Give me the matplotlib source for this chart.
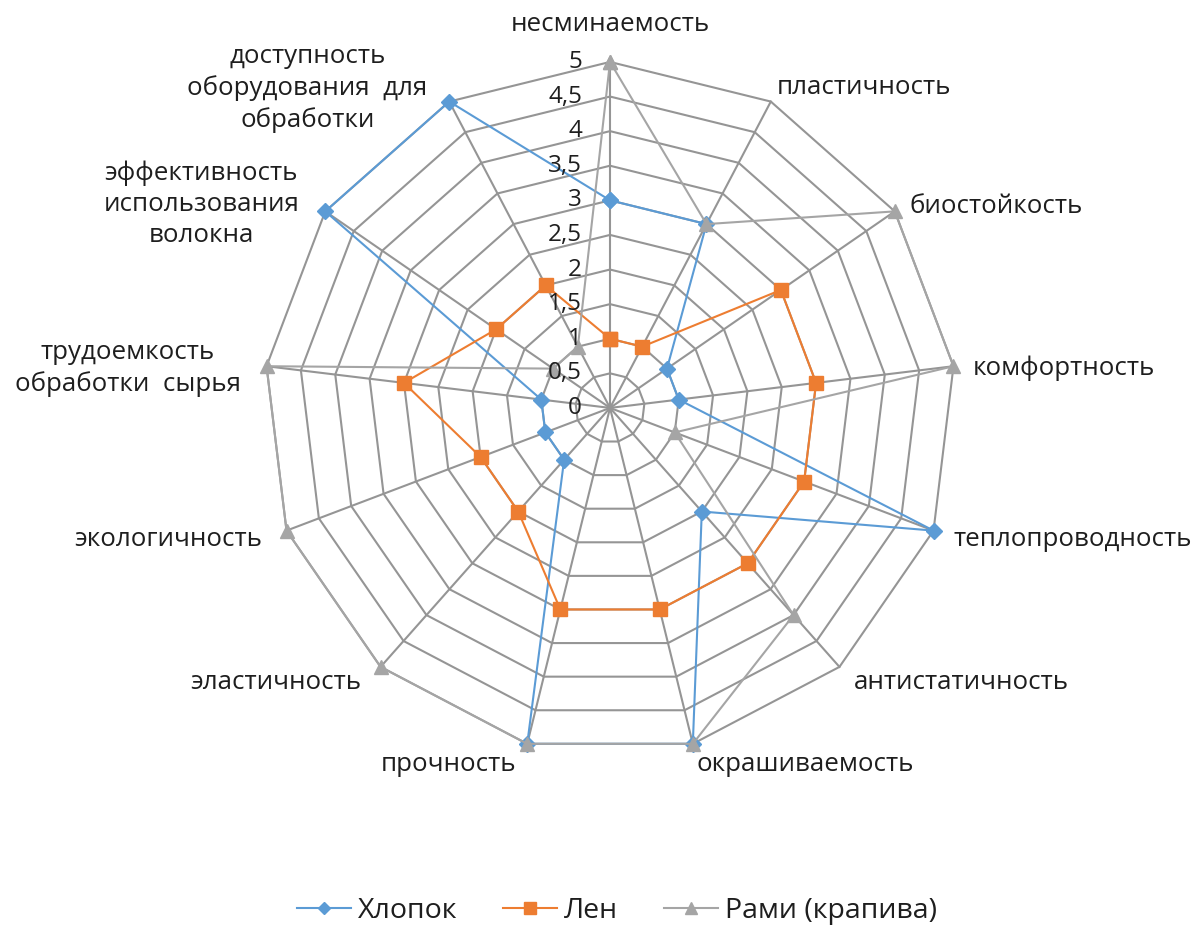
import numpy as np
import matplotlib
matplotlib.use('Agg')
import matplotlib.pyplot as plt

plt.rcParams['font.family'] = ['Open Sans', 'DejaVu Sans']

# categories, clockwise from the top
categories = ['несминаемость', 'пластичность', 'биостойкость', 'комфортность',
              'теплопроводность', 'антистатичность', 'окрашиваемость', 'прочность',
              'эластичность', 'экологичность', 'трудоемкость\nобработки  сырья',
              'эффективность\nиспользования\nволокна',
              'доступность\nоборудования  для\nобработки']

cotton = [3, 3, 1, 1, 5, 2, 5, 5, 1, 1, 1, 5, 5]
flax = [1, 1, 3, 3, 3, 3, 3, 3, 2, 2, 3, 2, 2]
ramie = [5, 3, 5, 5, 1, 4, 5, 5, 5, 5, 5, 1, 1]

ticks = [0, 0.5, 1, 1.5, 2, 2.5, 3, 3.5, 4, 4.5, 5]
tick_labels = ['0', '0,5', '1', '1,5', '2', '2,5', '3', '3,5', '4', '4,5', '5']

# label offsets in pixels from the outer vertex, with alignment
label_pos = [(0, 37, 'center'), (6, 14, 'left'), (15, 5, 'left'), (19, -2, 'left'),
             (20, -9, 'left'), (14, -16, 'left'), (4, -21, 'left'), (-11, -21, 'right'),
             (-19, -16, 'right'), (-24, -9, 'right'), (-139, -2, 'center'),
             (-124, 7, 'center'), (-142, 13, 'center')]

n = len(categories)
theta = np.arange(n) * 2 * np.pi / n
theta_c = np.append(theta, theta[0])

fig = plt.figure(figsize=(11.98, 9.31), dpi=100)
ax = fig.add_axes([0.2204, 0.1902, 0.5776, 0.7433], projection='polar')
ax.set_theta_zero_location('N')
ax.set_theta_direction(-1)
ax.set_ylim(0, 5)
ax.grid(False)
ax.set_xticks([])
ax.set_yticks([])
ax.spines['polar'].set_visible(False)
ax.patch.set_visible(False)

grid_color = '#959595'
for r in ticks[1:]:
    ax.plot(theta_c, [r] * (n + 1), color=grid_color, lw=1.5, zorder=1, clip_on=False)
for t in theta:
    ax.plot([t, t], [0, 5], color=grid_color, lw=1.5, zorder=1, clip_on=False)

ax.plot(theta_c, np.append(cotton, cotton[0]), color='#5b9bd5', lw=1.5,
        marker='D', ms=8, label='Хлопок', zorder=3, clip_on=False)
ax.plot(theta_c, np.append(flax, flax[0]), color='#ed7d31', lw=1.5,
        marker='s', ms=10, label='Лен', zorder=4, clip_on=False)
ax.plot(theta_c, np.append(ramie, ramie[0]), color='#a5a5a5', lw=1.5,
        marker='^', ms=10, label='Рами (крапива)', zorder=5, clip_on=False)

for r, lab in zip(ticks, tick_labels):
    ax.annotate(lab, xy=(0, r), xytext=(-28, 0), textcoords='offset pixels',
                ha='right', va='center', fontsize=17.5, color='#1e1e1e', zorder=6)

for t, lab, (dx, dy, ha) in zip(theta, categories, label_pos):
    ax.annotate(lab, xy=(t, 5), xytext=(dx, dy), textcoords='offset pixels',
                ha=ha, va='center', multialignment='center', fontsize=18.6,
                color='#1e1e1e', linespacing=1.3, annotation_clip=False)

fig.legend(loc='center', bbox_to_anchor=(0.515, 0.021), ncol=3, frameon=False,
           fontsize=20.5, handlelength=1.9, columnspacing=1.6, handletextpad=0.25,
           markerscale=0.8, labelcolor='#1e1e1e')

fig.savefig('out.png', dpi=100)
